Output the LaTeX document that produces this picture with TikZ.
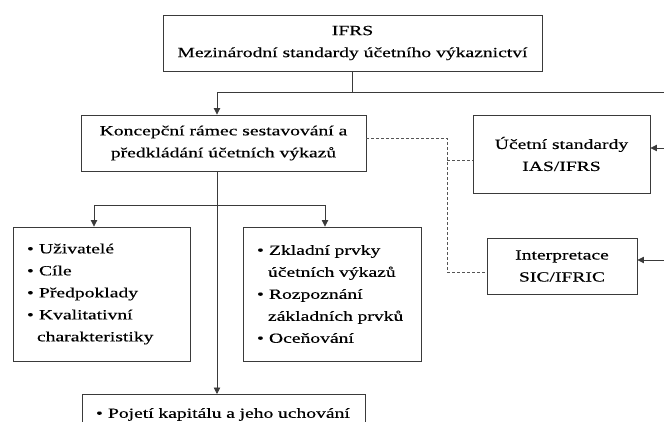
\documentclass[tikz,border=0pt]{standalone}
\usepackage{fontspec}
\setmainfont{Liberation Serif}[FakeStretch=1.4, FakeBold=0.4]
\usetikzlibrary{arrows.meta,positioning,calc}
\definecolor{linegray}{HTML}{3A3A3A}
\definecolor{dashgray}{HTML}{555555}
\newcommand{\bul}{\makebox[12pt][l]{\textbullet}}
\newcommand{\ind}{\hspace*{11pt}}

\begin{document}
\begin{tikzpicture}[x=1pt, y=-1pt,
  box/.style={draw=linegray, line width=0.9pt, font=\fontsize{14}{22}\selectfont, align=center, inner sep=0pt},
  list/.style={box, align=left, inner xsep=14pt},
  arrow/.style={-{Triangle[length=6.5pt,width=6.5pt]}, line width=0.8pt, linegray},
  link/.style={line width=0.8pt, linegray},
  dlink/.style={line width=0.8pt, dashgray, dash pattern=on 3pt off 2pt},
]
\useasboundingbox (0,0) rectangle (664,422);

% Top level
\node[box, minimum width=379, minimum height=56] (ifrs) at (352.5,43) {IFRS\\Mezinárodní standardy účetního výkaznictví};
\node[box, minimum width=285, minimum height=56] (koncept) at (223.5,143) {Koncepční rámec sestavování a\\předkládání účetních výkazů};

% Standards on the right
\node[box, minimum width=177, minimum height=78] (ias) at (561.5,154) {Účetní standardy\\IAS/IFRS};
\node[box, minimum width=150, minimum height=56] (interp) at (562,266) {Interpretace\\SIC/IFRIC};

% Framework contents
\node[list, text width=149, minimum height=134] (users) at (101.5,294) {\bul Uživatelé\\\bul Cíle\\\bul Předpoklady\\\bul Kvalitativní\\\hspace*{10pt}charakteristiky};
\node[list, text width=150, minimum height=134] (elements) at (332,294) {\bul Zkladní prvky\\\ind účetních výkazů\\\bul Rozpoznání\\\ind základních prvků\\\bul Oceňování};
\node[list, text width=255, minimum height=40, anchor=north] (capital) at (223.5,394) {\bul Pojetí kapitálu a jeho uchování};

% Junction points
\coordinate (top) at (217,92);
\coordinate (rgt) at (664,92);
\coordinate (mid) at (217,205);
\coordinate (lt) at (94,205);
\coordinate (rt) at (325,205);
\coordinate (e1) at (664,148);
\coordinate (e2) at (664,260);
\coordinate (d1) at (447,138);
\coordinate (d2) at (447,160);
\coordinate (d3) at (447,272);

% Arrows
\draw[link] (ifrs.south) -- (ifrs.south |- top);
\draw[arrow] (rgt) -- (top) -- (top |- koncept.north);
\draw[arrow] (e1) -- (e1 -| ias.east);
\draw[arrow] (e2) -- (e2 -| interp.east);
\draw[arrow] (koncept.south -| mid) -- (capital.north -| mid);
\draw[link] (lt) -- (rt);
\draw[arrow] (lt) -- (lt |- users.north);
\draw[arrow] (rt) -- (rt |- elements.north);
\draw[dlink] (koncept.east |- d1) -- (d1) -- (d3) -- (d3 -| interp.west);
\draw[dlink] (d2) -- (d2 -| ias.west);

\end{tikzpicture}
\end{document}
